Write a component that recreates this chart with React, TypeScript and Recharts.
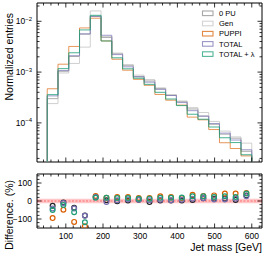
import React from 'react';
import { ComposedChart, Line, Scatter, XAxis, YAxis, Legend, ReferenceArea, ReferenceLine } from 'recharts';

// bin edges of the jet mass histogram (GeV), 19 bins from 50 to 600
const binEdges = [50, 78.95, 107.89, 136.84, 165.79, 194.74, 223.68, 252.63, 281.58, 310.53, 339.47, 368.42, 397.37, 426.32, 455.26, 484.21, 513.16, 542.11, 571.05, 600];

// normalized entries per bin
const zeroPU = [3.0e-4, 1.04e-3, 2.03e-3, 5.6e-3, 1.25e-2, 4.8e-3, 2.35e-3, 1.36e-3, 8.1e-4, 7.0e-4, 4.75e-4, 3.5e-4, 2.62e-4, 1.88e-4, 1.36e-4, 9.4e-5, 6.0e-5, 5.0e-5, 2.76e-5];
const gen = [2.4e-4, 9.6e-4, 1.48e-3, 3.1e-3, 1.6e-2, 5.0e-3, 2.3e-3, 1.4e-3, 8.7e-4, 6.6e-4, 4.9e-4, 3.6e-4, 2.7e-4, 2.0e-4, 1.6e-4, 1.07e-4, 6.9e-5, 5.3e-5, 4.0e-5];
const puppi = [4.7e-4, 1.43e-3, 3.2e-3, 7.4e-3, 1.15e-2, 4.1e-3, 1.79e-3, 1.09e-3, 7.2e-4, 5.5e-4, 3.63e-4, 2.8e-4, 2.24e-4, 1.3e-4, 1.15e-4, 7.4e-5, 4.07e-5, 3.13e-5, 2.24e-5];
const total = [3.4e-4, 1.07e-3, 2.1e-3, 5.64e-3, 1.25e-2, 5.3e-3, 2.21e-3, 1.27e-3, 8.1e-4, 6.34e-4, 4.56e-4, 3.46e-4, 2.51e-4, 1.74e-4, 1.36e-4, 9.7e-5, 6.3e-5, 4.6e-5, 2.96e-5];
const totalLambda = [3.6e-4, 1.17e-3, 2.4e-3, 6.76e-3, 1.31e-2, 4.1e-3, 1.91e-3, 1.16e-3, 7.57e-4, 5.74e-4, 4.0e-4, 2.95e-4, 2.19e-4, 1.48e-4, 1.18e-4, 8.3e-5, 5.1e-5, 4.1e-5, 2.36e-5];

// difference to Gen in percent
const diffZeroPU = [-26, -8, -37, -80, 22, 4, -2, 3, 7, -6, 3, 3, 3, 6, 15, 12, 13, 6, 31];
const diffPuppi = [-95, -49, -116, -140, 28, 18, 22, 22, 17, 17, 26, 22, 17, 35, 28, 31, 41, 41, 44];
const diffTotal = [-42, -11, -42, -82, 22, -6, 4, 9, 7, 4, 7, 4, 7, 13, 15, 9, 9, 13, 26];
const diffTotalLambda = [-50, -22, -62, -118, 18, 18, 17, 17, 13, 13, 18, 18, 19, 26, 26, 22, 26, 22, 41];

const xMajorTicks = [100, 200, 300, 400, 500, 600];
const xAllTicks = [40, 60, 80, 100, 120, 140, 160, 180, 200, 220, 240, 260, 280, 300, 320, 340, 360, 380, 400, 420, 440, 460, 480, 500, 520, 540, 560, 580, 600, 620];
const yTopMajor = [1e-4, 1e-3, 1e-2];
const yTopAll = [2e-5, 3e-5, 4e-5, 5e-5, 6e-5, 7e-5, 8e-5, 9e-5, 1e-4, 2e-4, 3e-4, 4e-4, 5e-4, 6e-4, 7e-4, 8e-4, 9e-4, 1e-3, 2e-3, 3e-3, 4e-3, 5e-3, 6e-3, 7e-3, 8e-3, 9e-3, 1e-2, 2e-2];
const yBotMajor = [-100, 0, 100];
const yBotAll = [-140, -120, -100, -80, -60, -40, -20, 0, 20, 40, 60, 80, 100, 120, 140];

const FONT = '"Liberation Sans", Arial, Helvetica, sans-serif';
const FLOOR = 1e-7;
const X_DOMAIN: [number, number] = [22.5, 627.5];
const Y_TOP: [number, number] = [1.7e-5, 0.0229];
const PLOT_W = 225;

const C_ZERO = '#8a8a8a';
const C_GEN = '#c4c4c4';
const C_PUPPI = '#d95f02';
const C_TOTAL = '#7570b3';
const C_TL = '#1b9e77';

const floorRow = { x: 0, zeroPU: FLOOR, gen: FLOOR, puppi: FLOOR, total: FLOOR, totalLambda: FLOOR };
const histRows = [
  { ...floorRow, x: binEdges[0] },
  ...gen.map((_, i) => ({
    x: binEdges[i],
    zeroPU: zeroPU[i],
    gen: gen[i],
    puppi: puppi[i],
    total: total[i],
    totalLambda: totalLambda[i],
  })),
  {
    x: binEdges[binEdges.length - 1],
    zeroPU: zeroPU[zeroPU.length - 1],
    gen: gen[gen.length - 1],
    puppi: puppi[puppi.length - 1],
    total: total[total.length - 1],
    totalLambda: totalLambda[totalLambda.length - 1],
  },
  { ...floorRow, x: binEdges[binEdges.length - 1] },
];

const centers = gen.map((_, i) => (binEdges[i] + binEdges[i + 1]) / 2);
const toPoints = (arr: number[]) => arr.map((y, i) => ({ x: centers[i], y }));

function makeXTick(plotH: number, withLabels: boolean) {
  return (props: any) => {
    const { x, y, payload } = props;
    const major = xMajorTicks.includes(payload.value);
    const len = major ? 4.5 : 2.5;
    return (
      <g>
        <line x1={x} x2={x} y1={y} y2={y - len} stroke="#000" strokeWidth={0.8} />
        <line x1={x} x2={x} y1={y - plotH} y2={y - plotH + len} stroke="#000" strokeWidth={0.8} />
        {withLabels && major ? (
          <text x={x} y={y + 11} textAnchor="middle" fontSize={8.5} fontFamily={FONT} fill="#000">
            {payload.value}
          </text>
        ) : null}
      </g>
    );
  };
}

const TopYTick = (props: any) => {
  const { x, y, payload } = props;
  const major = yTopMajor.includes(payload.value);
  const len = major ? 4.5 : 2.5;
  const exp = Math.round(Math.log10(payload.value));
  return (
    <g>
      <line x1={x} x2={x + len} y1={y} y2={y} stroke="#000" strokeWidth={0.8} />
      <line x1={x + PLOT_W} x2={x + PLOT_W - len} y1={y} y2={y} stroke="#000" strokeWidth={0.8} />
      {major ? (
        <text x={x - 5} y={y + 3} textAnchor="end" fontSize={8.5} fontFamily={FONT} fill="#000">
          <tspan>10</tspan>
          <tspan dy={-3.5} fontSize={6}>{'−' + Math.abs(exp)}</tspan>
        </text>
      ) : null}
    </g>
  );
};

const BotYTick = (props: any) => {
  const { x, y, payload } = props;
  const major = yBotMajor.includes(payload.value);
  const len = major ? 4.5 : 2.5;
  const v = payload.value;
  return (
    <g>
      <line x1={x} x2={x + len} y1={y} y2={y} stroke="#000" strokeWidth={0.8} />
      <line x1={x + PLOT_W} x2={x + PLOT_W - len} y1={y} y2={y} stroke="#000" strokeWidth={0.8} />
      {major ? (
        <text x={x - 5} y={y + 3} textAnchor="end" fontSize={8.5} fontFamily={FONT} fill="#000">
          {v < 0 ? '−' + Math.abs(v) : String(v)}
        </text>
      ) : null}
    </g>
  );
};

const renderLegend = (props: any) => {
  const items = props.payload || [];
  return (
    <svg width={64} height={54} style={{ display: 'block' }}>
      {items.map((it: any, i: number) => {
        const cy = 6.3 + i * 10.2;
        return (
          <g key={i}>
            <rect x={1.5} y={cy - 2.3} width={10.5} height={4.6} fill="none" stroke={it.color} strokeOpacity={0.75} strokeWidth={1.1} />
            <text x={18} y={cy + 2.7} fontSize={7.5} fontFamily={FONT} fill="#000">{it.value}</text>
          </g>
        );
      })}
    </svg>
  );
};

const ring = (color: string) => (p: any) => (
  <circle cx={p.cx} cy={p.cy} r={2.4} fill="none" stroke={color} strokeWidth={1.2} />
);

export default function App() {
  return (
    <div style={{ position: 'absolute', left: 0, top: 0, width: 266, height: 256, background: '#fff' }}>
      <div style={{ position: 'absolute', left: 0, top: 0 }}>
        <ComposedChart width={266} height={170} data={histRows} margin={{ top: 3, right: 4, bottom: 7, left: 36 }}>
          <XAxis
            dataKey="x"
            type="number"
            domain={X_DOMAIN}
            allowDataOverflow
            ticks={xAllTicks}
            interval={0}
            height={1}
            tickSize={0}
            tickMargin={0}
            axisLine={false}
            tickLine={false}
            tick={makeXTick(159, false)}
          />
          <YAxis
            type="number"
            scale="log"
            domain={Y_TOP}
            allowDataOverflow
            ticks={yTopAll}
            interval={0}
            width={1}
            tickSize={0}
            tickMargin={0}
            axisLine={false}
            tickLine={false}
            tick={TopYTick}
            label={(p: any) => (
              <text
                x={13}
                y={13}
                transform="rotate(-90 13 13)"
                textAnchor="end"
                fontSize={10.5}
                fontFamily={FONT}
                fill="#000"
              >
                Normalized entries
              </text>
            )}
          />
          <Line type="stepAfter" dataKey="zeroPU" name="0 PU" stroke={C_ZERO} strokeOpacity={0.7} strokeWidth={1} dot={false} isAnimationActive={false} />
          <Line type="stepAfter" dataKey="gen" name="Gen" stroke={C_GEN} strokeOpacity={0.8} strokeWidth={1} dot={false} isAnimationActive={false} />
          <Line type="stepAfter" dataKey="puppi" name="PUPPI" stroke={C_PUPPI} strokeOpacity={0.65} strokeWidth={1} dot={false} isAnimationActive={false} />
          <Line type="stepAfter" dataKey="total" name="TOTAL" stroke={C_TOTAL} strokeOpacity={0.7} strokeWidth={1} dot={false} isAnimationActive={false} />
          <Line type="stepAfter" dataKey="totalLambda" name="TOTAL + λ" stroke={C_TL} strokeOpacity={0.8} strokeWidth={1} dot={false} isAnimationActive={false} />
          <ReferenceArea x1={X_DOMAIN[0]} x2={X_DOMAIN[1]} y1={Y_TOP[0]} y2={Y_TOP[1]} fill="none" stroke="#000" strokeWidth={1} ifOverflow="visible" />
          <Legend
            layout="vertical"
            align="center"
            verticalAlign="middle"
            content={renderLegend}
            wrapperStyle={{ top: 7, left: 201, width: 64, height: 54, lineHeight: 0 }}
          />
        </ComposedChart>
      </div>
      <div style={{ position: 'absolute', left: 0, top: 166 }}>
        <ComposedChart width={266} height={90} margin={{ top: 8, right: 4, bottom: 27, left: 36 }}>
          <XAxis
            dataKey="x"
            type="number"
            domain={X_DOMAIN}
            allowDataOverflow
            ticks={xAllTicks}
            interval={0}
            height={1}
            tickSize={0}
            tickMargin={0}
            axisLine={false}
            tickLine={false}
            tick={makeXTick(54, true)}
            label={(p: any) => (
              <text x={262} y={84.5} textAnchor="end" fontSize={10.5} fontFamily={FONT} fill="#000">
                Jet mass [GeV]
              </text>
            )}
          />
          <YAxis
            dataKey="y"
            type="number"
            domain={[-150, 150]}
            allowDataOverflow
            ticks={yBotAll}
            interval={0}
            width={1}
            tickSize={0}
            tickMargin={0}
            axisLine={false}
            tickLine={false}
            tick={BotYTick}
            label={(p: any) => (
              <text
                x={13}
                y={14}
                transform="rotate(-90 13 14)"
                textAnchor="end"
                fontSize={10.5}
                fontFamily={FONT}
                fill="#000"
              >
                Difference. (%)
              </text>
            )}
          />
          <ReferenceArea y1={-12} y2={12} fill="#ff0000" fillOpacity={0.22} stroke="none" ifOverflow="visible" />
          <ReferenceLine y={0} stroke="#ff0000" strokeOpacity={0.6} strokeDasharray="2 1.5" strokeWidth={0.8} />
          <Scatter data={toPoints(diffZeroPU)} name="0 PU" shape={ring('#222222')} isAnimationActive={false} />
          <Scatter data={toPoints(diffPuppi)} name="PUPPI" shape={ring(C_PUPPI)} isAnimationActive={false} />
          <Scatter data={toPoints(diffTotal)} name="TOTAL" shape={ring(C_TOTAL)} isAnimationActive={false} />
          <Scatter data={toPoints(diffTotalLambda)} name="TOTAL + λ" shape={ring(C_TL)} isAnimationActive={false} />
          <ReferenceArea x1={X_DOMAIN[0]} x2={X_DOMAIN[1]} y1={-150} y2={150} fill="none" stroke="#000" strokeWidth={1} ifOverflow="visible" />
        </ComposedChart>
      </div>
    </div>
  );
}
